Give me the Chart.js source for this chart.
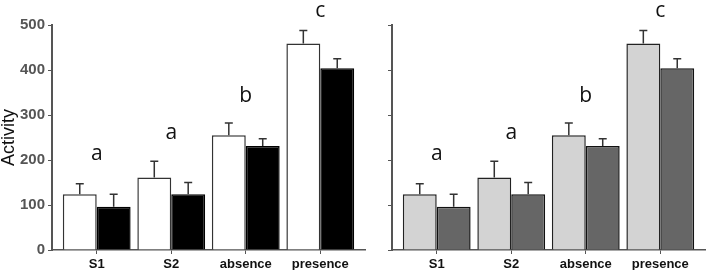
<!DOCTYPE html>
<html>
<head>
<meta charset="utf-8">
<script src="https://cdn.jsdelivr.net/npm/chart.js@4/dist/chart.umd.min.js"></script>
<style>
    html, body { margin: 0; padding: 0; background: #fff; }
    #wrap { position: relative; width: 708px; height: 270px; }
    canvas { position: absolute; top: 0; }
    #leftChart { left: 0; }
    #rightChart { left: 370px; }
</style>
</head>
<body>
<div id="wrap">
    <canvas id="leftChart" width="370" height="270"></canvas>
    <canvas id="rightChart" width="338" height="270"></canvas>
</div>
<script>
const categories = ['S1', 'S2', 'absence', 'presence'];
const firstMeans = [124, 161, 255, 459];
const firstErrors = [23, 36, 27, 29];
const secondMeans = [96, 124, 231, 404];
const secondErrors = [28, 26, 16, 21];
const groupLetters = ['a', 'a', 'b', 'c'];
const letterLevels = [200, 247, 329, 518];
const yMin = 0;
const yMax = 500;
const yStep = 100;

// category scale with a bit more room at both ends than the default offset
class PaddedCategoryScale extends Chart.CategoryScale {
    static id = 'paddedCategory';
    static defaults = Chart.CategoryScale.defaults;
    buildTicks() {
        const ticks = super.buildTicks();
        const pad = this.options.extraOffset || 0;
        this._startValue -= pad;
        this._valueRange += 2 * pad;
        return ticks;
    }
}
Chart.register(PaddedCategoryScale);

const errorBarPlugin = {
    id: 'errorBars',
    afterDatasetsDraw(chart) {
        const ctx = chart.ctx;
        const y = chart.scales.y;
        ctx.save();
        ctx.strokeStyle = '#333';
        ctx.lineWidth = 1.5;
        chart.data.datasets.forEach(function (ds, di) {
            chart.getDatasetMeta(di).data.forEach(function (bar, i) {
                const top = y.getPixelForValue(ds.data[i] + ds.errors[i]);
                ctx.beginPath();
                ctx.moveTo(bar.x, bar.y);
                ctx.lineTo(bar.x, top);
                ctx.moveTo(bar.x - 4, top);
                ctx.lineTo(bar.x + 4, top);
                ctx.stroke();
            });
        });
        ctx.restore();
    }
};

const letterPlugin = {
    id: 'groupLetters',
    afterDraw(chart) {
        const ctx = chart.ctx;
        const x = chart.scales.x;
        const y = chart.scales.y;
        ctx.save();
        ctx.fillStyle = '#111';
        ctx.font = '21px "Open Sans", sans-serif';
        ctx.textAlign = 'center';
        ctx.textBaseline = 'alphabetic';
        groupLetters.forEach(function (letter, i) {
            ctx.fillText(letter, x.getPixelForValue(i), y.getPixelForValue(letterLevels[i]));
        });
        ctx.restore();
    }
};

function makeChart(canvasId, colors, withLabels, yWidth, rightPad) {
    const ctx = document.getElementById(canvasId).getContext('2d');
    return new Chart(ctx, {
        type: 'bar',
        data: {
            labels: categories,
            datasets: [
                {
                    data: firstMeans,
                    errors: firstErrors,
                    backgroundColor: colors[0],
                    borderColor: colors[1],
                    borderWidth: 1.5
                },
                {
                    data: secondMeans,
                    errors: secondErrors,
                    backgroundColor: colors[2],
                    borderColor: colors[3],
                    borderWidth: 1.5
                }
            ]
        },
        options: {
            responsive: false,
            animation: false,
            devicePixelRatio: 1,
            layout: { padding: { top: 25, left: 0, right: rightPad, bottom: 0 } },
            plugins: {
                legend: { display: false },
                tooltip: { enabled: false }
            },
            datasets: {
                bar: { categoryPercentage: 0.91, barPercentage: 1 }
            },
            scales: {
                x: {
                    type: 'paddedCategory',
                    extraOffset: 0.1,
                    afterFit: function (scale) { scale.height = 20; },
                    grid: {
                        offset: false,
                        drawOnChartArea: false,
                        tickLength: 4,
                        color: '#555'
                    },
                    border: { color: '#555', width: 1.5 },
                    ticks: {
                        padding: 3,
                        color: '#111',
                        font: { family: '"Liberation Sans", Arial, sans-serif', size: 13, weight: 'bold' }
                    }
                },
                y: {
                    min: yMin,
                    max: yMax,
                    afterFit: function (scale) { scale.width = yWidth; },
                    grid: {
                        drawOnChartArea: false,
                        tickLength: 4,
                        color: '#555'
                    },
                    border: { color: '#555', width: 2 },
                    ticks: {
                        stepSize: yStep,
                        padding: 3,
                        color: '#555',
                        font: { family: '"Liberation Sans", Arial, sans-serif', size: 15, weight: 'bold' },
                        callback: function (v) { return withLabels ? v : ''; }
                    },
                    title: {
                        display: withLabels,
                        text: 'Activity',
                        color: '#111',
                        padding: 0,
                        font: { family: '"Liberation Sans", Arial, sans-serif', size: 18, lineHeight: 1 }
                    }
                }
            }
        },
        plugins: [errorBarPlugin, letterPlugin]
    });
}

makeChart('leftChart', ['#ffffff', '#333333', '#000000', '#000000'], true, 52, 5);
makeChart('rightChart', ['#d3d3d3', '#222222', '#666666', '#111111'], false, 22, 3);
</script>
</body>
</html>
